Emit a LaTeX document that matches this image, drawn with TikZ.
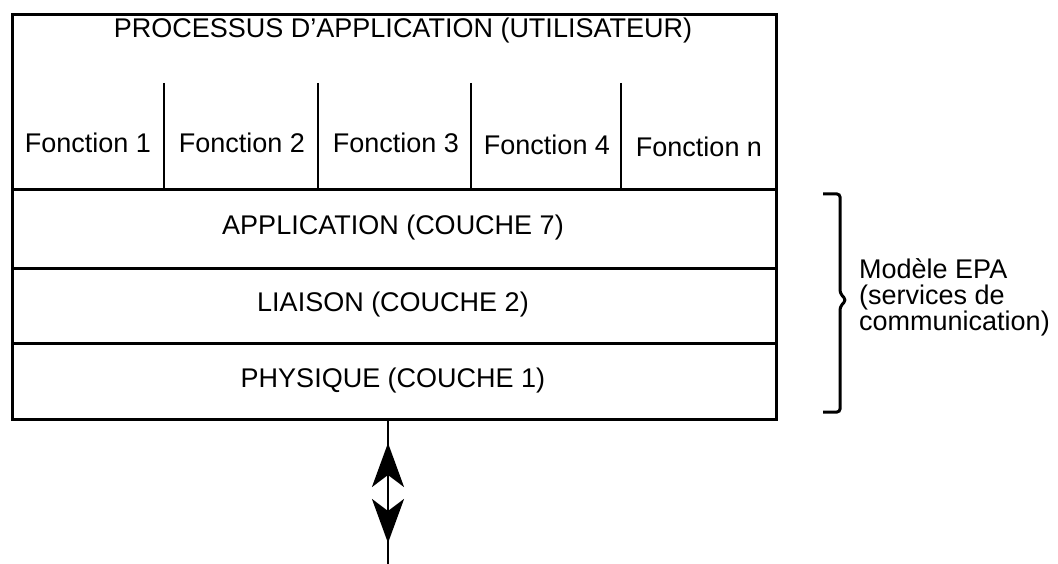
\documentclass[tikz,border=0pt]{standalone}
\usepackage{fontspec}
\setmainfont{Liberation Sans}
\usetikzlibrary{arrows.meta}
\begin{document}
\begin{tikzpicture}[x=1pt,y=-1pt,
  frame/.style={draw,line width=3pt,minimum width=764pt,inner sep=0pt,anchor=north west},
  lbl/.style={font=\fontsize{27}{26}\selectfont,inner sep=0pt},
  sep/.style={line width=2.6pt},
  head/.style={line width=2.6pt,-{Stealth[length=44pt,width=32pt,inset=12pt]}}]
\useasboundingbox (0,0) rectangle (1058,564);
% stacked layers
\node[frame,minimum height=175pt] (proc) at (11,13) {};
\node[frame,minimum height=79pt] (app) at (11,188) {};
\node[frame,minimum height=75pt] (lia) at (11,267) {};
\node[frame,minimum height=76pt] (phy) at (11,342) {};
% titles
\node[lbl] at (403,31) {PROCESSUS D’APPLICATION (UTILISATEUR)};
\node[lbl] at (393,228) {APPLICATION (COUCHE 7)};
\node[lbl] at (393,305) {LIAISON (COUCHE 2)};
\node[lbl] at (393,381) {PHYSIQUE (COUCHE 1)};
% function cells
\foreach \x in {164,318,471,621}
  \draw[sep] (\x,83) -- (\x,188);
\node[lbl] (f1) at (88,143) {Fonction 1};
\node[lbl] (f2) at (242,143) {Fonction 2};
\node[lbl] (f3) at (396,143) {Fonction 3};
\node[lbl] (f4) at (547,145) {Fonction 4};
\node[lbl] (fn) at (699,147) {Fonction n};
% bracket and its label
\coordinate (bt) at (823,194);
\coordinate (bb) at (823,412);
\draw[line width=3pt,rounded corners=3pt]
  (bt) -- (840,194) -- (840,293) -- (846,300) -- (840,307) -- (840,412) -- (bb);
\node[lbl,align=left,anchor=west] (epa) at (859,297)
  {Modèle EPA\\(services de\\communication)};
% exchange arrow below the physical layer
\coordinate (aTop) at (388,418);
\coordinate (aBot) at (388,564);
\draw[line width=2.6pt] (aTop) -- (aBot);
\coordinate (u1) at (388,488);
\coordinate (u2) at (388,443);
\coordinate (d1) at (388,497);
\coordinate (d2) at (388,543);
\draw[head] (u1) -- (u2);
\draw[head] (d1) -- (d2);
\end{tikzpicture}
\end{document}
